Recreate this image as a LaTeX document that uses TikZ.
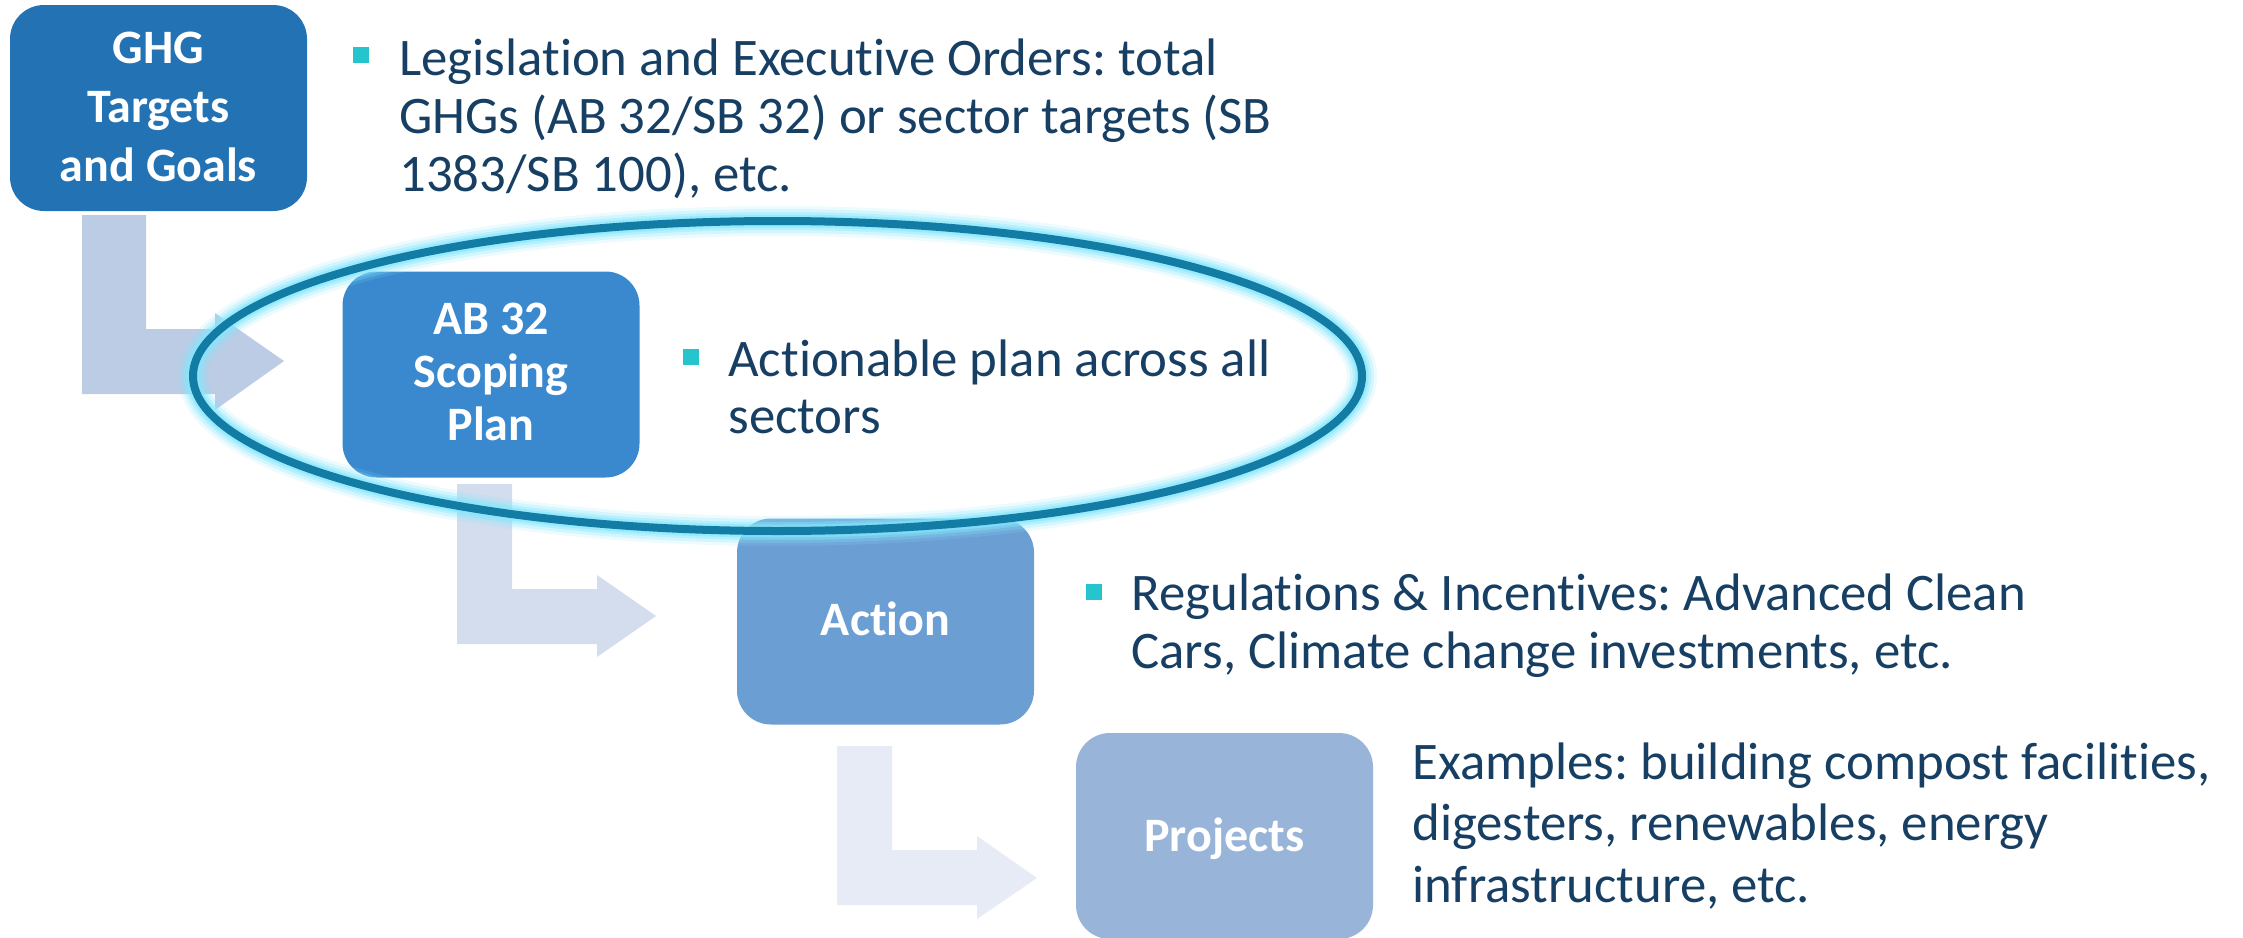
\documentclass[tikz,border=0pt]{standalone}
\usepackage{fontspec}
\setmainfont{Carlito}[Ligatures=NoCommon]
\frenchspacing
\definecolor{boxA}{HTML}{2272B4}
\definecolor{boxB}{HTML}{3A88CE}
\definecolor{boxC}{HTML}{6B9ED3}
\definecolor{boxD}{HTML}{99B4D9}
\definecolor{arrA}{HTML}{BCCCE5}
\definecolor{arrB}{HTML}{D4DDEE}
\definecolor{arrC}{HTML}{E6EBF5}
\definecolor{txt}{HTML}{173F63}
\definecolor{bulc}{HTML}{26C4CC}
\definecolor{ringc}{HTML}{127CA4}
\definecolor{glowc}{HTML}{86E6FC}
\newcommand{\mylines}[2]{\vtop{\baselineskip=#1\lineskiplimit=-100pt\lineskip=0pt\halign{##\hfil\cr#2\crcr}}}
\newcommand{\mylinesc}[2]{\vtop{\baselineskip=#1\lineskiplimit=-100pt\lineskip=0pt\halign{\hfil##\hfil\cr#2\crcr}}}
\tikzset{
  blk/.style={rounded corners=17pt, minimum width=148.5pt, minimum height=103pt, inner sep=0pt, draw=none},
  blbl/.style={font=\bfseries\fontsize{24}{29}\selectfont, text=white, inner sep=0pt, anchor=base},
  body/.style={font=\fontsize{26.4}{31}\selectfont, text=txt, inner sep=0pt, anchor=base west},
  bul/.style={fill=bulc, minimum size=8pt, inner sep=0pt, draw=none},
  glow/.style={draw=glowc},
  ring/.style={draw=ringc, line width=4pt},
}
\begin{document}
\begin{tikzpicture}[x=0.5pt, y=-0.5pt]
\useasboundingbox (0,0) rectangle (2243,937);
% bent arrows
\fill[arrA] (82,215) -- (146,215) -- (146,329) -- (215,329) -- (215,313) -- (284,361) -- (215,410) -- (215,394) -- (82,394) -- cycle;
\fill[arrB] (457,484) -- (512,484) -- (512,589) -- (597,589) -- (597,575) -- (656,616) -- (597,657) -- (597,644) -- (457,644) -- cycle;
\fill[arrC] (837,746) -- (892,746) -- (892,850) -- (977,850) -- (977,836) -- (1037,878) -- (977,919) -- (977,905) -- (837,905) -- cycle;
% boxes
\node[blk, fill=boxA] (ghg) at (158.5,108) {};
\node[blk, fill=boxB] (scp) at (491,374.5) {};
\node[blk, fill=boxC] (act) at (885.5,621.5) {};
\node[blk, fill=boxD] (prj) at (1224.5,836) {};
\node[blbl] (ghgl) at (158.5,63) {\mylinesc{29.5pt}{GHG\cr Targets\cr and Goals}};
\node[blbl] (scpl) at (491,334) {\mylinesc{26.5pt}{AB 32\cr Scoping\cr Plan}};
\node[blbl] (actl) at (885.5,635) {Action};
\node[blbl] (prjl) at (1224.5,851) {Projects};
% highlight ellipse
\coordinate (ec) at (777.5,376);
\foreach \w/\o in {15pt/0.15, 12pt/0.25, 9pt/0.4, 6.5pt/0.6}
  \draw[glow, line width=\w, opacity=\o] (ec) ellipse [x radius=292.25pt, y radius=77.5pt];
\draw[ring] (ec) ellipse [x radius=292.25pt, y radius=77.5pt];
% bullets
\node[bul] (bu1) at (361,55) {};
\node[bul] (bu2) at (691,357) {};
\node[bul] (bu3) at (1094,591.5) {};
% texts
\node[body] (t1) at (399,75) {\mylines{29.25pt}{Legislation and Executive Orders: total\cr GHGs (AB 32/SB 32) or sector targets (SB\cr 1383/SB 100), etc.}};
\node[body] (t2) at (728,376) {\mylines{28.5pt}{Actionable plan across all\cr sectors}};
\node[body] (t3) at (1131,610) {\mylines{29pt}{Regulations \& Incentives: Advanced Clean\cr Cars, Climate change investments, etc.}};
\node[body] (t4) at (1412,779) {\mylines{30.75pt}{Examples: building compost facilities,\cr digesters, renewables, energy\cr infrastructure, etc.}};
\end{tikzpicture}
\end{document}
